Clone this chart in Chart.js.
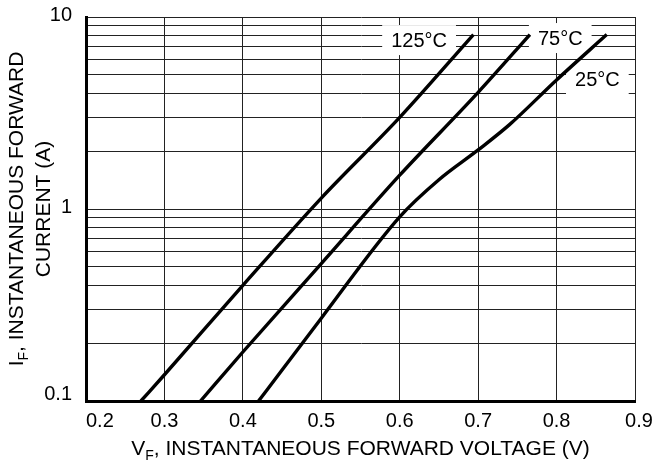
<!DOCTYPE html>
<html>
<head>
<meta charset="utf-8">
<script src="https://cdn.jsdelivr.net/npm/chart.js@4.4.1/dist/chart.umd.min.js"></script>
<style>
  body { margin: 0; background: #fff; }
  #wrap { width: 652px; height: 465px; }
</style>
</head>
<body>
<div id="wrap"><canvas id="ivChart" width="652" height="465"></canvas></div>
<script>
// forward voltage (V) / forward current (A)
const volts125 = [0.27, 0.30, 0.40, 0.50, 0.60, 0.694];
const amps125 = [0.1, 0.137, 0.40, 1.14, 3.0, 8.1];

const volts75 = [0.346, 0.40, 0.50, 0.60, 0.70, 0.766];
const amps75 = [0.1, 0.18, 0.52, 1.5, 4.05, 8.1];

const volts25 = [0.42, 0.45, 0.50, 0.60, 0.65, 0.70, 0.74, 0.80, 0.864];
const amps25 = [0.1, 0.145, 0.27, 0.91, 1.42, 2.03, 2.75, 4.7, 8.1];

// axis ticks
const xTicks = [0.2, 0.3, 0.4, 0.5, 0.6, 0.7, 0.8, 0.9];
const xTickLabels = ['0.2', '0.3', '0.4', '0.5', '0.6', '0.7', '0.8', '0.9'];
const yTicks = [0.1, 0.2, 0.3, 0.4, 0.5, 0.6, 0.7, 0.8, 0.9,
                1, 2, 3, 4, 5, 6, 7, 8, 9, 10];
const yLabelValues = [0.1, 1, 10];
const yTickLabels = ['0.1', '1', '10'];

// curve labels (placed in data units)
const curveNames = ['125°C', '75°C', '25°C'];
const curveLabelV = [0.6247, 0.8047, 0.852];
const curveLabelI = [7.58, 7.77, 4.75];

const FONT = '"Liberation Sans", Arial, Helvetica, sans-serif';

function toPoints(xs, ys) {
    return xs.map((x, i) => ({ x: x, y: ys[i] }));
}

const datasheetText = {
    id: 'datasheetText',
    beforeDatasetsDraw(chart) {
        const ctx = chart.ctx;
        const xs = chart.scales.x;
        const ys = chart.scales.y;
        ctx.save();
        ctx.font = '20px ' + FONT;
        ctx.textAlign = 'center';
        ctx.textBaseline = 'middle';
        curveNames.forEach((name, i) => {
            const cx = xs.getPixelForValue(curveLabelV[i]);
            const cy = ys.getPixelForValue(curveLabelI[i]);
            const w = ctx.measureText(name).width + 18;
            ctx.fillStyle = '#fff';
            ctx.fillRect(cx - w / 2, cy - 15, w, 30);
            ctx.fillStyle = '#000';
            ctx.fillText(name, cx, cy + 1);
        });
        ctx.restore();
    },
    afterDraw(chart) {
        const ctx = chart.ctx;
        const xs = chart.scales.x;
        const ys = chart.scales.y;
        const area = chart.chartArea;
        ctx.save();
        ctx.fillStyle = '#000';

        // x tick labels
        ctx.font = '20px ' + FONT;
        ctx.textBaseline = 'middle';
        xTicks.forEach((v, i) => {
            let px = xs.getPixelForValue(v);
            ctx.textAlign = 'center';
            if (i === 0) ctx.textAlign = 'left';
            if (i === xTicks.length - 1) px += 4;
            ctx.fillText(xTickLabels[i], px, area.bottom + 20);
        });

        // y tick labels
        ctx.textAlign = 'right';
        yLabelValues.forEach((v, i) => {
            let py = ys.getPixelForValue(v) - 2;
            if (i === 0) py -= 5;
            ctx.fillText(yTickLabels[i], area.left - 14, py);
        });

        // x title with subscript
        const big = '21px ' + FONT;
        const small = '14px ' + FONT;
        const rest = ', INSTANTANEOUS FORWARD VOLTAGE (V)';
        ctx.textAlign = 'left';
        ctx.textBaseline = 'alphabetic';
        ctx.font = big;
        const wV = ctx.measureText('V').width;
        const wRest = ctx.measureText(rest).width;
        ctx.font = small;
        const wF = ctx.measureText('F').width;
        let tx = (area.left + area.right) / 2 - (wV + wF + wRest) / 2;
        const ty = 455;
        ctx.font = big;
        ctx.fillText('V', tx, ty);
        ctx.font = small;
        ctx.fillText('F', tx + wV, ty + 5);
        ctx.font = big;
        ctx.fillText(rest, tx + wV + wF, ty);

        // y title, two lines rotated
        ctx.translate(0, (area.top + area.bottom) / 2);
        ctx.rotate(-Math.PI / 2);
        const rest1 = ', INSTANTANEOUS FORWARD';
        ctx.font = big;
        const wI = ctx.measureText('I').width;
        const wRest1 = ctx.measureText(rest1).width;
        ctx.font = small;
        const wF2 = ctx.measureText('F').width;
        let sx = -(wI + wF2 + wRest1) / 2;
        ctx.font = big;
        ctx.fillText('I', sx, 23);
        ctx.font = small;
        ctx.fillText('F', sx + wI, 28);
        ctx.font = big;
        ctx.fillText(rest1, sx + wI + wF2, 23);
        ctx.textAlign = 'center';
        ctx.fillText('CURRENT (A)', 0, 50);

        ctx.restore();
    }
};

const lineStyle = {
    borderColor: '#000',
    borderWidth: 3.4,
    pointRadius: 0,
    fill: false,
    cubicInterpolationMode: 'monotone'
};

new Chart(document.getElementById('ivChart').getContext('2d'), {
    type: 'line',
    data: {
        datasets: [
            Object.assign({ label: curveNames[0], data: toPoints(volts125, amps125) }, lineStyle),
            Object.assign({ label: curveNames[1], data: toPoints(volts75, amps75) }, lineStyle),
            Object.assign({ label: curveNames[2], data: toPoints(volts25, amps25) }, lineStyle)
        ]
    },
    options: {
        responsive: false,
        animation: false,
        events: [],
        layout: { padding: { left: 86, right: 17, top: 17, bottom: 64 } },
        plugins: {
            legend: { display: false },
            tooltip: { enabled: false }
        },
        scales: {
            x: {
                type: 'linear',
                min: 0.2,
                max: 0.9,
                afterBuildTicks: scale => {
                    scale.ticks = xTicks.map(v => ({ value: v }));
                },
                ticks: { display: false },
                grid: { color: '#222', lineWidth: 1, drawTicks: false },
                border: { color: '#000', width: 3 }
            },
            y: {
                type: 'logarithmic',
                min: 0.1,
                max: 10,
                afterBuildTicks: scale => {
                    scale.ticks = yTicks.map(v => ({ value: v }));
                },
                ticks: { display: false },
                grid: { color: '#222', lineWidth: 1, drawTicks: false },
                border: { color: '#000', width: 3 }
            }
        }
    },
    plugins: [datasheetText]
});
</script>
</body>
</html>
